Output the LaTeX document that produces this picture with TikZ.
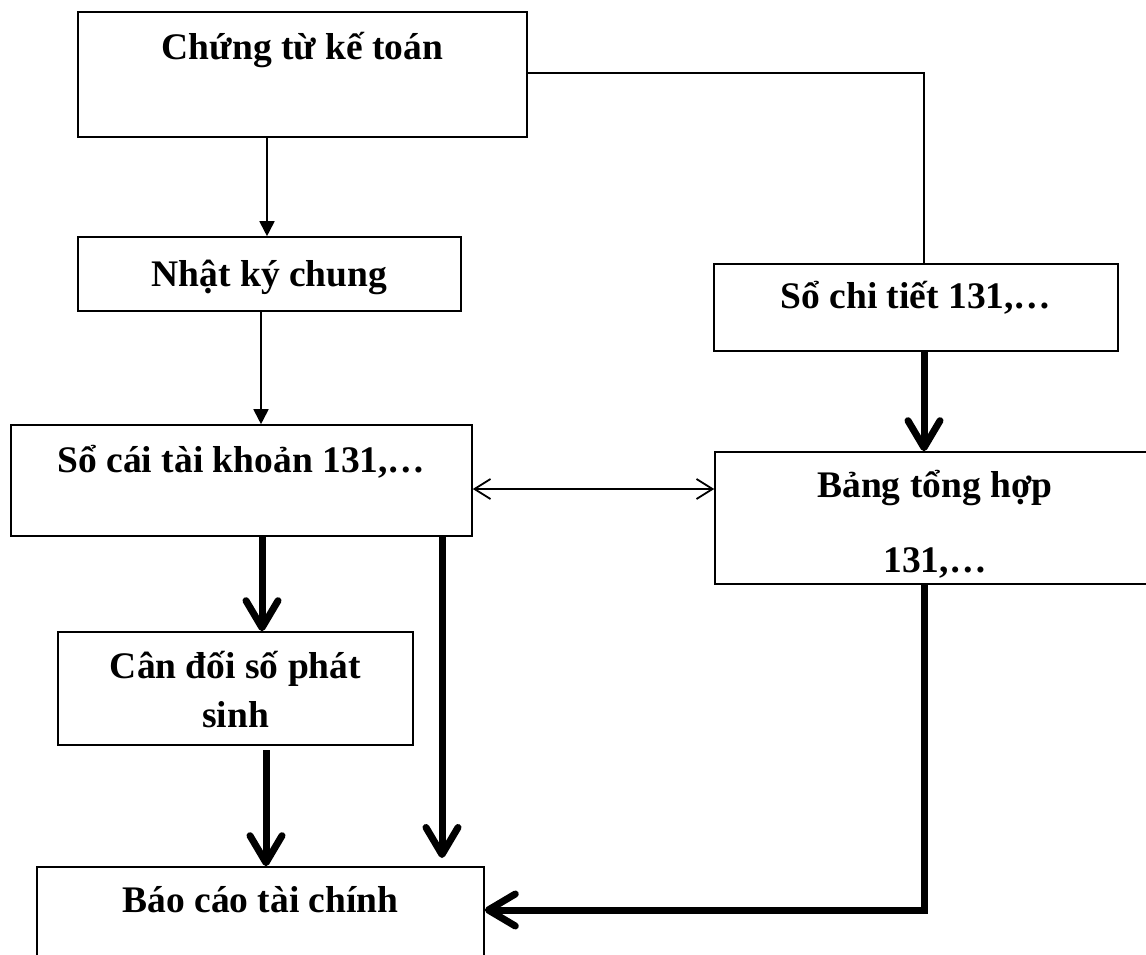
\documentclass[tikz,border=0pt]{standalone}
\usepackage{fontspec}
\setmainfont{Liberation Serif}
\usetikzlibrary{arrows.meta}
\begin{document}
\begin{tikzpicture}[x=1pt,y=-1pt,
  box/.style={draw, line width=1.6pt, rectangle, inner sep=0pt},
  lbl/.style={anchor=base, inner sep=0pt, font=\fontsize{37.5}{45}\selectfont\bfseries},
  thinline/.style={line width=1.8pt},
  fine/.style={thinline, -{Triangle[length=15pt,width=15pt]}},
  both/.style={thinline, {Straight Barb[length=16pt,width=20pt]}-{Straight Barb[length=16pt,width=20pt]}},
  heavy/.style={line width=7pt, -{Straight Barb[length=27pt,width=32pt,round]}},
]
\useasboundingbox (0,0) rectangle (1146,955);
\clip (0,0) rectangle (1146,955);

% boxes
\node[box, minimum width=449pt, minimum height=125pt] (A) at (302.5,74.5) {};
\node[box, minimum width=383pt, minimum height=74pt]  (B) at (269.5,274) {};
\node[box, minimum width=461pt, minimum height=111pt] (C) at (241.5,480.5) {};
\node[box, minimum width=404pt, minimum height=87pt]  (D) at (916,307.5) {};
\node[box, minimum width=440pt, minimum height=132pt] (E) at (935,518) {};
\node[box, minimum width=355pt, minimum height=113pt] (F) at (235.5,688.5) {};
\node[box, minimum width=447pt, minimum height=143pt] (G) at (260.5,938.5) {};

% labels
\node[lbl] (At)  at (302.5,60)  {Chứng từ kế toán};
\node[lbl] (Bt)  at (269.5,286) {Nhật ký chung};
\node[lbl] (Ct)  at (241.5,472) {Sổ cái tài khoản 131,…};
\node[lbl] (Dt)  at (916,308)   {Sổ chi tiết 131,…};
\node[lbl] (Et1) at (935,497)   {Bảng tổng hợp};
\node[lbl] (Et2) at (935,572)   {131,…};
\node[lbl] (Ft1) at (235.5,678) {Cân đối số phát};
\node[lbl] (Ft2) at (235.5,727) {sinh};
\node[lbl] (Gt)  at (260.5,912) {Báo cáo tài chính};

% connectors
\draw[thinline] (A.east |- 0,73) -| (924,0 |- D.north);
\draw[fine] (267,0 |- A.south) -- (267,0 |- B.north);
\draw[fine] (261,0 |- B.south) -- (261,0 |- C.north);
\draw[both] (C.east |- 0,489) -- (E.west |- 0,489);
\draw[heavy] (924,0 |- D.south) -- (924,0 |- E.north);
\draw[heavy] (262,0 |- C.south) -- (262,0 |- F.north);
\draw[heavy] (442,0 |- C.south) -- (442,858);
\draw[heavy] (266,750) -- (266,0 |- G.north);
\draw[heavy] (924,0 |- E.south) |- (G.east |- 0,910);
\end{tikzpicture}
\end{document}
